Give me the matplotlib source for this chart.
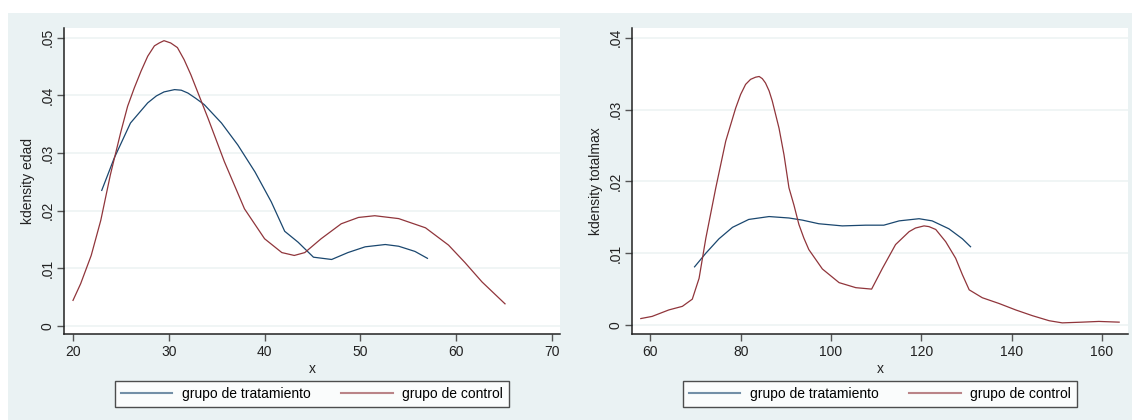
# -*- coding: utf-8 -*-
"""
Kernel density of edad and totalmax: treatment group vs control group
"""
# =============================     Import modules     =====================
import matplotlib.pyplot as plt
from matplotlib.patches import Rectangle

# =============================        Data           =====================
# -- edad (left panel)
edad_trat_x = [23.0, 24.3, 26.0, 27.8, 28.7, 29.5, 30.6, 31.3, 32.0, 32.8,
               33.7, 35.5, 37.2, 39.0, 40.7, 42.1, 43.5, 45.1, 47.0, 48.7,
               50.5, 52.6, 54.0, 55.7, 57.0]
edad_trat_y = [0.0235, 0.0291, 0.0352, 0.0387, 0.0399, 0.0406, 0.0410, 0.0409,
               0.0404, 0.0395, 0.0384, 0.0352, 0.0314, 0.0267, 0.0215, 0.0164,
               0.0145, 0.0119, 0.0115, 0.0127, 0.0137, 0.0141, 0.0138, 0.0129,
               0.0117]

edad_ctrl_x = [20.0, 20.8, 21.9, 22.9, 23.9, 25.0, 25.7, 26.4, 27.1, 27.8,
               28.5, 29.0, 29.5, 30.2, 30.9, 31.6, 32.3, 34.1, 35.8, 37.9,
               40.0, 41.8, 43.1, 44.2, 45.9, 48.0, 49.8, 51.5, 54.0, 56.8,
               59.2, 60.9, 62.7, 65.1]
edad_ctrl_y = [0.0044, 0.0073, 0.0122, 0.0183, 0.0262, 0.0337, 0.0381, 0.0413,
               0.0442, 0.0468, 0.0486, 0.0491, 0.0495, 0.0491, 0.0483, 0.0462,
               0.0436, 0.0360, 0.0285, 0.0203, 0.0151, 0.0127, 0.0122, 0.0127,
               0.0151, 0.0177, 0.0188, 0.0191, 0.0186, 0.0170, 0.0140, 0.0110,
               0.0076, 0.0038]

# -- totalmax (right panel)
tmax_trat_x = [69.8, 72.3, 75.2, 78.2, 81.8, 86.3, 90.7, 93.7, 97.3, 102.5,
               107.7, 111.7, 115.1, 119.5, 122.4, 126.1, 129.1, 130.9]
tmax_trat_y = [0.0081, 0.0100, 0.0120, 0.0136, 0.0147, 0.0151, 0.0149, 0.0146,
               0.0141, 0.0138, 0.0139, 0.0139, 0.0145, 0.0148, 0.0145, 0.0134,
               0.0120, 0.0109]

tmax_ctrl_x = [57.9, 60.4, 64.1, 67.1, 69.3, 70.8, 72.3, 74.5, 76.7, 78.9,
               80.0, 81.1, 82.2, 83.3, 84.1, 84.8, 85.5, 86.3, 87.0, 88.5,
               89.6, 90.7, 91.8, 92.9, 94.0, 95.1, 98.1, 101.8, 105.5, 109.0,
               111.4, 114.3, 117.3, 118.7, 120.6, 121.7, 123.2, 125.4, 127.6,
               129.1, 130.6, 133.5, 137.2, 140.9, 144.6, 148.3, 151.2, 155.6,
               159.3, 163.8]
tmax_ctrl_y = [0.0009, 0.0012, 0.0021, 0.0026, 0.0036, 0.0065, 0.0121, 0.0191,
               0.0256, 0.0302, 0.0321, 0.0335, 0.0342, 0.0345, 0.0346, 0.0343,
               0.0337, 0.0326, 0.0312, 0.0274, 0.0237, 0.0191, 0.0167, 0.0140,
               0.0121, 0.0105, 0.0078, 0.0059, 0.0052, 0.0050, 0.0079, 0.0112,
               0.0130, 0.0135, 0.0138, 0.0137, 0.0133, 0.0116, 0.0093, 0.0070,
               0.0049, 0.0038, 0.0030, 0.0021, 0.0013, 0.0006, 0.0003, 0.0004,
               0.0005, 0.0004]

lbl_trat = 'grupo de tratamiento'
lbl_ctrl = 'grupo de control'

edad_xticks = [20, 30, 40, 50, 60, 70]
edad_yticks = [0, 0.01, 0.02, 0.03, 0.04, 0.05]
edad_ylabels = ['0', '.01', '.02', '.03', '.04', '.05']

tmax_xticks = [60, 80, 100, 120, 140, 160]
tmax_yticks = [0, 0.01, 0.02, 0.03, 0.04]
tmax_ylabels = ['0', '.01', '.02', '.03', '.04']

# =============================   Plot settings      =====================
c_trat = '#1a476f'   # navy
c_ctrl = '#90353b'   # maroon
c_bg   = '#eaf2f3'   # graph region
c_grid = '#eef4f4'
lw     = 0.9

plt.rcParams['font.family'] = ['Liberation Sans', 'DejaVu Sans']
plt.rcParams['font.size'] = 10


def draw_panel(ax, xt, yt, xc, yc, xticks, yticks, ylabels, xlim, ylim, ylab):
    ax.set_facecolor('white')
    for yv in yticks:
        ax.axhline(yv, color=c_grid, lw=1.2, zorder=0)
    ax.plot(xt, yt, color=c_trat, lw=lw, label=lbl_trat)
    ax.plot(xc, yc, color=c_ctrl, lw=lw, label=lbl_ctrl)
    ax.set_xlim(xlim)
    ax.set_ylim(ylim)
    ax.set_xticks(xticks)
    ax.set_yticks(yticks)
    ax.set_yticklabels(ylabels, rotation=90, va='center')
    ax.tick_params(axis='both', direction='out', length=5, width=1,
                   color='#555555', labelcolor='#222222')
    ax.tick_params(axis='y', pad=2)
    ax.tick_params(axis='x', pad=3)
    for s in ['top', 'right']:
        ax.spines[s].set_visible(False)
    for s in ['left', 'bottom']:
        ax.spines[s].set_color('#222222')
        ax.spines[s].set_linewidth(1.1)
    ax.set_xlabel('x', labelpad=2, color='#222222')
    ax.set_ylabel(ylab, labelpad=4, color='#222222')
    leg = ax.legend(loc='upper center', bbox_to_anchor=(0.5, -0.153), ncol=2,
                    frameon=True, fancybox=False, handlelength=3.7,
                    handletextpad=0.7, columnspacing=2.2, borderpad=0.45,
                    borderaxespad=0)
    leg.get_frame().set_edgecolor('#222222')
    leg.get_frame().set_linewidth(1.0)
    for ln in leg.get_lines():
        ln.set_linewidth(1.5)
        ln.set_alpha(0.6)


# =============================    Main program   ==========================
if __name__ == '__main__':
    fig = plt.figure(figsize=(11.32, 4.20), dpi=100)
    fig.patch.set_facecolor('white')
    fig.patches.append(Rectangle((8 / 1132, 0), 1 - 8 / 1132, 1 - 13 / 420,
                                 transform=fig.transFigure, facecolor=c_bg,
                                 edgecolor='none', zorder=-10))

    ax1 = fig.add_axes([64 / 1132, 86 / 420, 496 / 1132, 306 / 420])
    ax2 = fig.add_axes([632 / 1132, 86 / 420, 496 / 1132, 306 / 420])

    draw_panel(ax1, edad_trat_x, edad_trat_y, edad_ctrl_x, edad_ctrl_y,
               edad_xticks, edad_yticks, edad_ylabels,
               (19.06, 70.84), (-0.00144, 0.0517), 'kdensity edad')
    draw_panel(ax2, tmax_trat_x, tmax_trat_y, tmax_ctrl_x, tmax_ctrl_y,
               tmax_xticks, tmax_yticks, tmax_ylabels,
               (55.95, 165.76), (-0.00125, 0.04135), 'kdensity totalmax')

    plt.savefig('out.png', dpi=100, facecolor=fig.get_facecolor())
